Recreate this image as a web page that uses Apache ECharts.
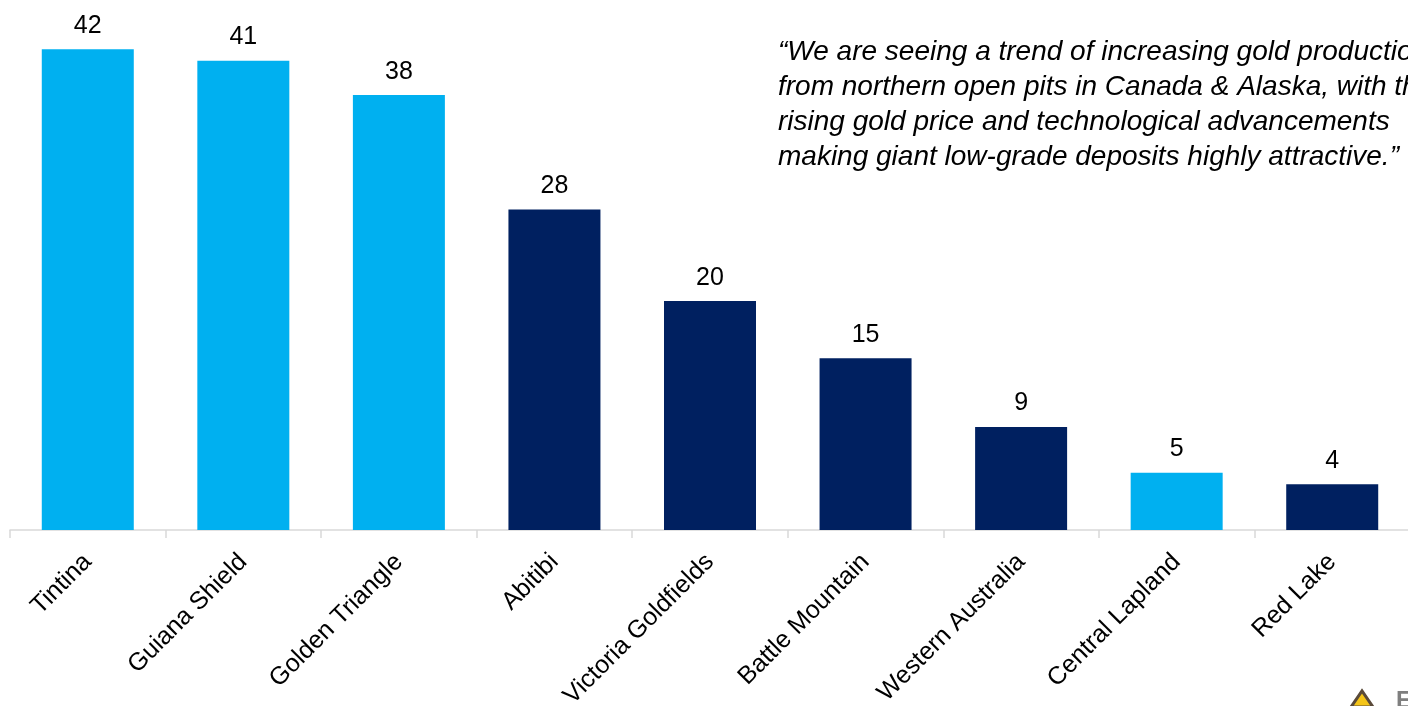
<!DOCTYPE html>
<html><head><meta charset="utf-8">
<script src="https://cdn.jsdelivr.net/npm/echarts@6/dist/echarts.min.js"></script>
<style>html,body{margin:0;padding:0;background:#fff;overflow:hidden;}#c{width:1408px;height:706px;}</style>
</head><body><div id="c"></div>
<script>
const categories = ["Tintina","Guiana Shield","Golden Triangle","Abitibi","Victoria Goldfields","Battle Mountain","Western Australia","Central Lapland","Red Lake"];
const values = [42,41,38,28,20,15,9,5,4];
const highlight = [true,true,true,false,false,false,false,true,false];
const quoteLines = [
  "\u201CWe are seeing a trend of increasing gold production",
  "from northern open pits in Canada & Alaska, with the",
  "rising gold price and technological advancements",
  "making giant low-grade deposits highly attractive.\u201D"
];
const LIGHT = "#00B0F0", DARK = "#002060";
const FONT = 'Liberation Sans, Arial, sans-serif';
const chart = echarts.init(document.getElementById('c'));
const graphics = quoteLines.map((t, i) => ({
  type: 'text', left: 778, top: 38 + i * 35,
  style: {text: t, fill: '#000', font: 'italic 28px "Liberation Sans", Arial, sans-serif'}
}));
graphics.push({
  type: 'polygon', shape: {points: [[1351, 707], [1362, 691], [1373, 707]]},
  style: {fill: '#F5C518', stroke: '#5A4A3A', lineWidth: 3}
});
graphics.push({
  type: 'text', left: 1396, top: 689,
  style: {text: 'E', fill: '#7F7F7F', font: 'bold 24px "Liberation Sans", Arial, sans-serif'}
});
chart.setOption({
  animation: false,
  grid: {left: 10, right: -2, top: 15, bottom: 176, containLabel: false, outerBoundsMode: 'none'},
  xAxis: {
    type: 'category', data: categories,
    axisLine: {lineStyle: {color: '#d9d9d9', width: 1.5}},
    axisTick: {show: true, alignWithLabel: false, length: 8, lineStyle: {color: '#d9d9d9', width: 1.5}},
    axisLabel: {rotate: 45, interval: 0, margin: 28, color: '#000', fontSize: 25, fontFamily: FONT}
  },
  yAxis: {type: 'value', min: 0, max: 45, show: false, splitLine: {show: false}},
  series: [{
    type: 'bar', barWidth: 92,
    data: values.map((v, i) => ({value: v, itemStyle: {color: highlight[i] ? LIGHT : DARK}})),
    label: {show: true, position: 'top', distance: 11, color: '#000', fontSize: 25, fontFamily: FONT}
  }],
  graphic: graphics
});
</script></body></html>
